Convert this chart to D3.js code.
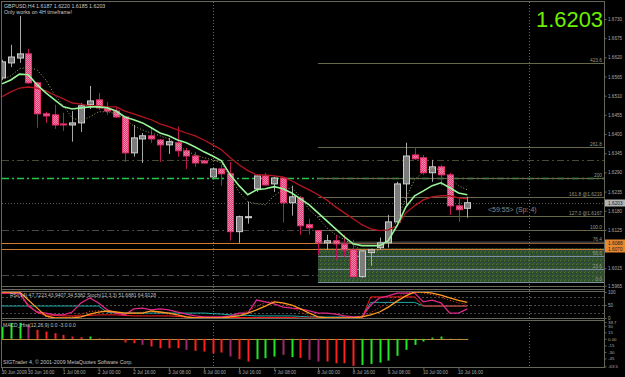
<!DOCTYPE html>
<html>
<head>
<meta charset="utf-8">
<script src="https://cdn.jsdelivr.net/npm/d3@7"></script>
<style>
  body { margin: 0; background: #000; }
  svg { display: block; font-family: "Liberation Sans", Arial, sans-serif; }
</style>
</head>
<body>
<svg width="625" height="377"></svg>
<script>
// GBPUSD H4 candles
var opens  = [1.6561,1.6604,1.6618,1.6630,1.6547,1.6458,1.6455,1.6429,1.6426,1.6432,1.6484,1.6498,1.6472,1.6466,1.6449,1.6346,1.6386,1.6395,1.6383,1.6369,1.6375,1.6352,1.6337,1.6323,1.6277,1.6300,1.6286,1.6120,1.6160,1.6243,1.6280,1.6257,1.6274,1.6203,1.6217,1.6140,1.6123,1.6088,1.6094,1.6083,1.6068,1.5991,1.6060,1.6074,1.6088,1.6148,1.6257,1.6340,1.6332,1.6289,1.6306,1.6283,1.6194,1.6187];
var highs  = [1.6613,1.6656,1.6739,1.6644,1.6549,1.6464,1.6484,1.6461,1.6466,1.6489,1.6538,1.6518,1.6492,1.6478,1.6452,1.6426,1.6403,1.6418,1.6386,1.6389,1.6421,1.6360,1.6349,1.6326,1.6303,1.6312,1.6320,1.6166,1.6206,1.6283,1.6289,1.6277,1.6277,1.6252,1.6220,1.6157,1.6125,1.6111,1.6111,1.6111,1.6097,1.6068,1.6071,1.6103,1.6168,1.6263,1.6375,1.6363,1.6340,1.6326,1.6312,1.6289,1.6217,1.6220];
var lows   = [1.6555,1.6592,1.6604,1.6544,1.6418,1.6432,1.6415,1.6409,1.6378,1.6406,1.6472,1.6469,1.6455,1.6446,1.6320,1.6335,1.6317,1.6375,1.6320,1.6343,1.6335,1.6300,1.6306,1.6315,1.6274,1.6252,1.6094,1.6088,1.6143,1.6234,1.6252,1.6234,1.6146,1.6166,1.6111,1.6111,1.6054,1.6068,1.6040,1.6048,1.5977,1.5988,1.6022,1.6068,1.6074,1.6146,1.6197,1.6326,1.6283,1.6263,1.6252,1.6168,1.6148,1.6160];
var closes = [1.6607,1.6621,1.6630,1.6547,1.6458,1.6452,1.6426,1.6426,1.6432,1.6481,1.6495,1.6475,1.6466,1.6449,1.6346,1.6389,1.6395,1.6386,1.6369,1.6378,1.6352,1.6337,1.6317,1.6317,1.6300,1.6286,1.6120,1.6163,1.6163,1.6280,1.6254,1.6274,1.6203,1.6220,1.6137,1.6131,1.6088,1.6094,1.6085,1.6068,1.5991,1.6065,1.6068,1.6088,1.6148,1.6257,1.6337,1.6329,1.6289,1.6306,1.6283,1.6194,1.6183,1.6203];

// moving averages
var maGreen = [1.6544,1.6555,1.6572,1.6570,1.6541,1.6518,1.6498,1.6478,1.6472,1.6475,1.6478,1.6478,1.6475,1.6466,1.6449,1.6441,1.6432,1.6418,1.6403,1.6395,1.6383,1.6375,1.6363,1.6349,1.6337,1.6323,1.6283,1.6252,1.6226,1.6240,1.6243,1.6249,1.6243,1.6231,1.6214,1.6197,1.6174,1.6151,1.6128,1.6105,1.6085,1.6080,1.6080,1.6080,1.6094,1.6137,1.6191,1.6223,1.6237,1.6252,1.6260,1.6246,1.6231,1.6226];
var maRed   = [1.6507,1.6521,1.6532,1.6535,1.6532,1.6524,1.6512,1.6501,1.6489,1.6486,1.6481,1.6481,1.6478,1.6478,1.6466,1.6458,1.6449,1.6441,1.6429,1.6421,1.6412,1.6403,1.6395,1.6383,1.6369,1.6355,1.6332,1.6312,1.6295,1.6283,1.6283,1.6280,1.6277,1.6266,1.6252,1.6240,1.6226,1.6211,1.6191,1.6174,1.6157,1.6140,1.6128,1.6123,1.6125,1.6137,1.6174,1.6194,1.6211,1.6220,1.6223,1.6223,1.6217,1.6214];
var maDots  = [1.6555,1.6567,1.6587,1.6592,1.6584,1.6555,1.6512,1.6481,1.6446,1.6438,1.6449,1.6464,1.6464,1.6458,1.6444,1.6423,1.6412,1.6403,1.6395,1.6386,1.6369,1.6352,1.6340,1.6332,1.6326,1.6317,1.6277,1.6234,1.6206,1.6200,1.6197,1.6223,1.6240,1.6246,1.6220,1.6183,1.6160,1.6131,1.6111,1.6097,1.6083,1.6065,1.6062,1.6068,1.6094,1.6154,1.6217,1.6269,1.6292,1.6303,1.6297,1.6274,1.6252,1.6240];

// horizontal levels
var fibPrices = [1.5977,1.6012,1.6051,1.6090,1.6125,1.6166,1.6220,1.6274,1.6364,1.6604];
var fibLabels = ["0.0","23.6","50.0","76.4","100.0","127.0 @1.6167","161.8 @1.6219","200","261.8","423.6"];
var fibStart = 36;
var zoneTop = 1.6072, zoneBottom = 1.5975;
var dashLevels = [1.6326, 1.6274, 1.6125, 1.5995];
var orangeLevels = [1.6088, 1.6070];
var bid = 1.6203;
var separators = [24, 60];

// oscillator window
var stochOrange = [100,100,100,69,38,8,0,0,0,4,15,23,27,23,19,19,19,27,23,19,12,4,0,0,0,0,4,8,19,31,46,62,58,50,35,19,4,0,0,0,0,4,12,23,42,65,85,100,100,96,88,77,68,60];
var stochPink   = [96,96,96,46,23,19,12,12,23,58,77,58,31,19,12,35,38,31,35,31,23,15,8,4,4,4,8,19,19,69,62,54,42,38,35,27,19,19,15,8,4,4,50,77,85,96,96,96,62,69,58,19,19,35];
var stochTeal   = [46,46,46,46,46,46,46,46,46,46,46,46,22,19,19,19,19,19,19,19,19,19,19,19,17,15,12,10,10,8,8,8,8,8,6,4,4,4,4,4,4,4,60,60,60,60,60,60,46,46,46,46,46,46];
var stochRed    = [96,96,96,50,20,12,10,8,8,8,10,12,12,12,10,8,8,8,8,8,6,4,2,2,2,2,2,2,2,2,2,2,2,2,0,0,0,0,0,0,0,0,81,81,81,81,81,81,46,46,46,46,46,46];
var stochMain   = [100,100,80,50,25,5,0,0,5,15,25,28,25,20,18,20,22,25,20,15,8,2,0,0,0,2,6,15,28,45,60,65,55,40,22,8,2,0,0,0,2,8,20,40,62,82,95,100,96,90,80,68,58,52];
var stochLevels = [80, 50, 20];

// MACD histogram
var macd = [27.6,36.8,36.8,32,20.7,16.8,13,9.2,5.3,3.8,5.3,1.5,0.7,0.3,-8.4,-10,-13.8,-17.6,-21.5,-21.5,-21.5,-25.3,-27.6,-29.1,-33,-31.4,-40.6,-46.7,-52,-46.7,-44.4,-40.6,-36.8,-42,-43.7,-48,-52,-52,-56,-56,-62,-60,-57.5,-54.5,-50,-39,-25.3,-13.8,-6.2,3,5.3,0.6,0.4,0.3];
var macdState = "gggpddddddgdddddpddddpddddpddgggpgdppddddggggggggggggg".split("");

// axis labels
var priceTicks = [1.6730,1.6675,1.6620,1.6565,1.6510,1.6455,1.6400,1.6345,1.6290,1.6235,1.6180,1.6125,1.6015,1.5965];
var stochTicks = [100, 50, 0];
var macdTicks = [38.7, 30, 15, 0, -15, -30, -45, -63.5];
var timeBars = [0,3,7,11,15,19,23,27,31,36,40,44,48,52];
var timeLabels = ["30 Jun 2009","30 Jun 16:00","1 Jul 08:00","2 Jul 00:00","2 Jul 16:00","3 Jul 08:00","6 Jul 00:00","6 Jul 16:00","7 Jul 08:00","8 Jul 00:00","8 Jul 16:00","9 Jul 08:00","10 Jul 00:00","10 Jul 16:00"];

var svg = d3.select("svg"),
    right = 604;

svg.append("rect").attr("width", 625).attr("height", 377).attr("fill", "#000");

var x = d3.scaleLinear().domain([0, 53]).range([2, 467.3]),
    y = d3.scaleLinear().domain([1.5965, 1.6730]).range([285.7, 19]),
    yS = d3.scaleLinear().domain([0, 100]).range([318, 292]),
    yM = d3.scaleLinear().domain([-63.5, 38.7]).range([366.5, 322]);

var defs = svg.append("defs");
defs.append("clipPath").attr("id", "clipMain").append("rect")
    .attr("x", 2).attr("y", 2).attr("width", right - 2).attr("height", 284);
defs.append("clipPath").attr("id", "clipStoch").append("rect")
    .attr("x", 2).attr("y", 290).attr("width", right - 2).attr("height", 30);
defs.append("clipPath").attr("id", "clipMacd").append("rect")
    .attr("x", 2).attr("y", 321).attr("width", right - 2).attr("height", 47);

// dithered fills like the screenshot
var dith = defs.append("pattern").attr("id", "dith").attr("width", 4).attr("height", 4)
    .attr("patternUnits", "userSpaceOnUse");
dith.append("rect").attr("width", 4).attr("height", 4).attr("fill", "#30502a");
dith.append("rect").attr("x", 0).attr("y", 0).attr("width", 1).attr("height", 1).attr("fill", "#4e7444");
dith.append("rect").attr("x", 2).attr("y", 2).attr("width", 1).attr("height", 1).attr("fill", "#3a4c5a");
dith.append("rect").attr("x", 1).attr("y", 3).attr("width", 1).attr("height", 1).attr("fill", "#42663a");
dith.append("rect").attr("x", 3).attr("y", 1).attr("width", 1).attr("height", 1).attr("fill", "#263f22");

var pink = defs.append("pattern").attr("id", "pink").attr("width", 2).attr("height", 2)
    .attr("patternUnits", "userSpaceOnUse");
pink.append("rect").attr("width", 2).attr("height", 2).attr("fill", "#e0407a");
pink.append("rect").attr("width", 1).attr("height", 1).attr("fill", "#f488ae");
pink.append("rect").attr("x", 1).attr("y", 1).attr("width", 1).attr("height", 1).attr("fill", "#f07aa2");

var main = svg.append("g").attr("clip-path", "url(#clipMain)");

// dash-dot horizontal lines across the whole window
main.selectAll(".dl").data(dashLevels).enter().append("line")
    .attr("x1", 2).attr("x2", right)
    .attr("y1", function(d) { return Math.round(y(d)) + 0.5; })
    .attr("y2", function(d) { return Math.round(y(d)) + 0.5; })
    .attr("stroke", function(d, i) { return i == 1 ? "#22c846" : (i == 0 ? "#4a4a32" : "#484848"); })
    .attr("stroke-width", function(d, i) { return i == 1 ? 1.5 : 1; })
    .attr("stroke-dasharray", "7,3,2,3");

// bid line
main.append("line")
    .attr("x1", 2).attr("x2", right)
    .attr("y1", Math.round(y(bid)) + 0.5).attr("y2", Math.round(y(bid)) + 0.5)
    .attr("stroke", "#5a5a5a").attr("stroke-dasharray", "1,2");

// green zone
main.append("rect")
    .attr("x", x(fibStart)).attr("y", y(zoneTop))
    .attr("width", right - x(fibStart)).attr("height", y(zoneBottom) - y(zoneTop))
    .attr("fill", "url(#dith)");

// orange lines
main.selectAll(".ol").data(orangeLevels).enter().append("line")
    .attr("x1", 2).attr("x2", right)
    .attr("y1", function(d) { return Math.round(y(d)) + 0.5; })
    .attr("y2", function(d) { return Math.round(y(d)) + 0.5; })
    .attr("stroke", "#d27a2e");

// fibo levels
main.selectAll(".fl").data(fibPrices).enter().append("line")
    .attr("x1", x(fibStart)).attr("x2", right)
    .attr("y1", function(d) { return Math.round(y(d)) + 0.5; })
    .attr("y2", function(d) { return Math.round(y(d)) + 0.5; })
    .attr("stroke", function(d, i) { return i < 3 ? "#7e90a6" : (i == 3 ? "#3c3c3c" : "#67674a"); })
    .attr("stroke-width", function(d, i) { return i == 3 ? 2 : 1; });

main.selectAll(".ft").data(fibPrices).enter().append("text")
    .attr("x", right - 2).attr("y", function(d) { return Math.round(y(d)) - 1; })
    .attr("text-anchor", "end").attr("font-size", 4.8).attr("fill", "#9a9a86")
    .text(function(d, i) { return fibLabels[i]; });

// period separators
svg.selectAll(".sep").data(separators).enter().append("line")
    .attr("x1", function(d) { return Math.round(x(d)) + 0.5; })
    .attr("x2", function(d) { return Math.round(x(d)) + 0.5; })
    .attr("y1", 2).attr("y2", 367)
    .attr("stroke", "#6a6a6a").attr("stroke-dasharray", "1,2");

// candles
var bars = d3.range(opens.length);
var candle = main.selectAll(".candle").data(bars).enter().append("g");

candle.append("line")
    .attr("x1", function(i) { return Math.round(x(i)) + 0.5; })
    .attr("x2", function(i) { return Math.round(x(i)) + 0.5; })
    .attr("y1", function(i) { return y(highs[i]); })
    .attr("y2", function(i) { return y(lows[i]); })
    .attr("stroke", function(i) { return closes[i] >= opens[i] ? "#a8a8a8" : "#c0145a"; });

candle.append("rect")
    .attr("x", function(i) { return Math.round(x(i)) - 2.5; })
    .attr("y", function(i) { return y(Math.max(opens[i], closes[i])); })
    .attr("width", 6)
    .attr("height", function(i) { return Math.max(1, Math.abs(y(opens[i]) - y(closes[i]))); })
    .attr("fill", function(i) { return closes[i] >= opens[i] ? "#7c7c7c" : "url(#pink)"; })
    .attr("stroke", function(i) { return closes[i] >= opens[i] ? "#cfcfcf" : "#e8306e"; })
    .attr("stroke-width", 1);

// moving averages
var priceLine = d3.line()
    .x(function(d, i) { return x(i); })
    .y(function(d) { return y(d); });

main.append("path").datum(maDots).attr("fill", "none")
    .attr("stroke", "#a6a66a").attr("stroke-dasharray", "1,2").attr("d", priceLine);
main.append("path").datum(maRed).attr("fill", "none")
    .attr("stroke", "#b4161e").attr("stroke-width", 1.3).attr("d", priceLine);
main.append("path").datum(maGreen).attr("fill", "none")
    .attr("stroke", "#98f598").attr("stroke-width", 1.6).attr("d", priceLine);

// header
svg.append("text").attr("x", 4).attr("y", 8).attr("font-size", 5.3).attr("fill", "#c8c8c8")
    .text("GBPUSD,H4  1.6187 1.6220 1.6185 1.6203");
svg.append("text").attr("x", 4).attr("y", 14).attr("font-size", 5.3).attr("fill", "#c8c8c8")
    .text("Only works on 4H timeframe!");

svg.append("text").attr("x", 536).attr("y", 27).attr("font-size", 22)
    .attr("textLength", 67).attr("lengthAdjust", "spacingAndGlyphs")
    .attr("fill", "#6cf000").text("1.6203");

svg.append("text").attr("x", 488).attr("y", 212).attr("font-size", 7).attr("fill", "#8a8a8a")
    .text("<59:55> (Sp: 4)");

// oscillator window
var stoch = svg.append("g").attr("clip-path", "url(#clipStoch)");
stoch.selectAll(".sl").data(stochLevels).enter().append("line")
    .attr("x1", 2).attr("x2", right)
    .attr("y1", function(d) { return Math.round(yS(d)) + 0.5; })
    .attr("y2", function(d) { return Math.round(yS(d)) + 0.5; })
    .attr("stroke", "#4c4c4c").attr("stroke-dasharray", "2,2");

var stochLine = d3.line()
    .x(function(d, i) { return x(i); })
    .y(function(d) { return yS(d); });

stoch.append("path").datum(stochTeal).attr("fill", "none").attr("stroke", "#1fa8a4").attr("d", stochLine);
stoch.append("path").datum(stochRed).attr("fill", "none").attr("stroke", "#ff1c1c").attr("d", stochLine);
stoch.append("path").datum(stochMain).attr("fill", "none").attr("stroke", "#ff3a3a")
    .attr("stroke-dasharray", "1,2").attr("d", stochLine);
stoch.append("path").datum(stochPink).attr("fill", "none").attr("stroke", "#e0288c")
    .attr("stroke-width", 1.3).attr("d", stochLine);
stoch.append("path").datum(stochOrange).attr("fill", "none").attr("stroke", "#ff9a1e")
    .attr("stroke-width", 1.3).attr("d", stochLine);

svg.append("text").attr("x", 10).attr("y", 297).attr("font-size", 5).attr("fill", "#c0c0c0")
    .text("RSI(14) 47.7223 43.9407 34.5382   Stoch(12,3,3) 51.6881 64.9128");

// MACD window
var macdG = svg.append("g").attr("clip-path", "url(#clipMacd)");
macdG.append("line")
    .attr("x1", 2).attr("x2", x(53) + 1)
    .attr("y1", Math.round(yM(0)) + 0.5).attr("y2", Math.round(yM(0)) + 0.5)
    .attr("stroke", "#b88a3a");

var stateColor = { g: "#22e622", d: "#ff2020", p: "#a0286e" };
macdG.selectAll(".hb").data(macd).enter().append("rect")
    .attr("x", function(d, i) { return Math.round(x(i)) - 0.5; })
    .attr("y", function(d) { return Math.min(yM(0), yM(d)); })
    .attr("width", 2)
    .attr("height", function(d) { return Math.abs(yM(d) - yM(0)); })
    .attr("fill", function(d, i) { return stateColor[macdState[i]]; });

svg.append("text").attr("x", 3).attr("y", 327).attr("font-size", 5).attr("fill", "#c0c0c0")
    .text("MACD_Hist(12,26,9) 0.0 -3.0 0.0");

svg.append("text").attr("x", 3).attr("y", 364).attr("font-size", 5.3).attr("fill", "#c0c0c0")
    .text("SIGTrader 4, \u00a9 2001-2009 MetaQuotes Software Corp.");

// window frames
var frame = "#66665a";
svg.append("line").attr("x1", 1.5).attr("x2", 1.5).attr("y1", 1).attr("y2", 368).attr("stroke", frame);
svg.append("line").attr("x1", 1).attr("x2", right).attr("y1", 1.5).attr("y2", 1.5).attr("stroke", frame);
[286.5, 289.5, 291.5, 318.5, 320.5, 367.5].forEach(function(v) {
    svg.append("line").attr("x1", 1).attr("x2", right).attr("y1", v).attr("y2", v).attr("stroke", frame);
});

// axes
function styleAxis(g) {
    g.select(".domain").attr("stroke", frame);
    g.selectAll(".tick line").attr("stroke", frame);
    g.selectAll(".tick text").attr("fill", "#a8a8a8").attr("font-family", "Liberation Sans, Arial, sans-serif");
}

var priceAxis = svg.append("g").attr("transform", "translate(" + (right + 0.5) + ",0)")
    .call(d3.axisRight(y).tickValues(priceTicks).tickFormat(d3.format(".4f")).tickSize(2).tickPadding(1.5));
priceAxis.select(".domain").remove();
styleAxis(priceAxis);
priceAxis.selectAll(".tick text").attr("font-size", 4.6);

var stochAxis = svg.append("g").attr("transform", "translate(" + (right + 0.5) + ",0)")
    .call(d3.axisRight(yS).tickValues(stochTicks).tickSize(2).tickPadding(1.5));
stochAxis.select(".domain").remove();
styleAxis(stochAxis);
stochAxis.selectAll(".tick text").attr("font-size", 4.6);

var macdAxis = svg.append("g").attr("transform", "translate(" + (right + 0.5) + ",0)")
    .call(d3.axisRight(yM).tickValues(macdTicks)
        .tickFormat(function(d) { return d == 0 ? "0.00" : d; }).tickSize(2).tickPadding(1.5));
macdAxis.select(".domain").remove();
styleAxis(macdAxis);
macdAxis.selectAll(".tick text").attr("font-size", 4.4);

svg.append("line").attr("x1", right + 0.5).attr("x2", right + 0.5).attr("y1", 1).attr("y2", 368).attr("stroke", frame);

// price tags on the axis
var tags = [{ p: bid, fill: "#b4b4b4" }, { p: orangeLevels[0], fill: "#e6882e" }, { p: orangeLevels[1], fill: "#e6882e" }];
var tag = svg.selectAll(".tag").data(tags).enter().append("g")
    .attr("transform", function(d) { return "translate(" + (right + 1) + "," + Math.round(y(d.p)) + ")"; });
tag.append("rect").attr("x", 0).attr("y", -3.5).attr("width", 20).attr("height", 7)
    .attr("fill", function(d) { return d.fill; });
tag.append("text").attr("x", 3).attr("y", 1.8).attr("font-size", 4.8).attr("fill", "#202020")
    .text(function(d) { return d3.format(".4f")(d.p); });

// time axis
var timeAxis = svg.append("g").attr("transform", "translate(0,368)")
    .call(d3.axisBottom(x).tickValues(timeBars)
        .tickFormat(function(d, i) { return timeLabels[i]; }).tickSize(2).tickPadding(1));
timeAxis.select(".domain").remove();
styleAxis(timeAxis);
timeAxis.selectAll(".tick text").attr("font-size", 4.6).attr("text-anchor", "start").attr("dx", -1);
</script>
</body>
</html>
